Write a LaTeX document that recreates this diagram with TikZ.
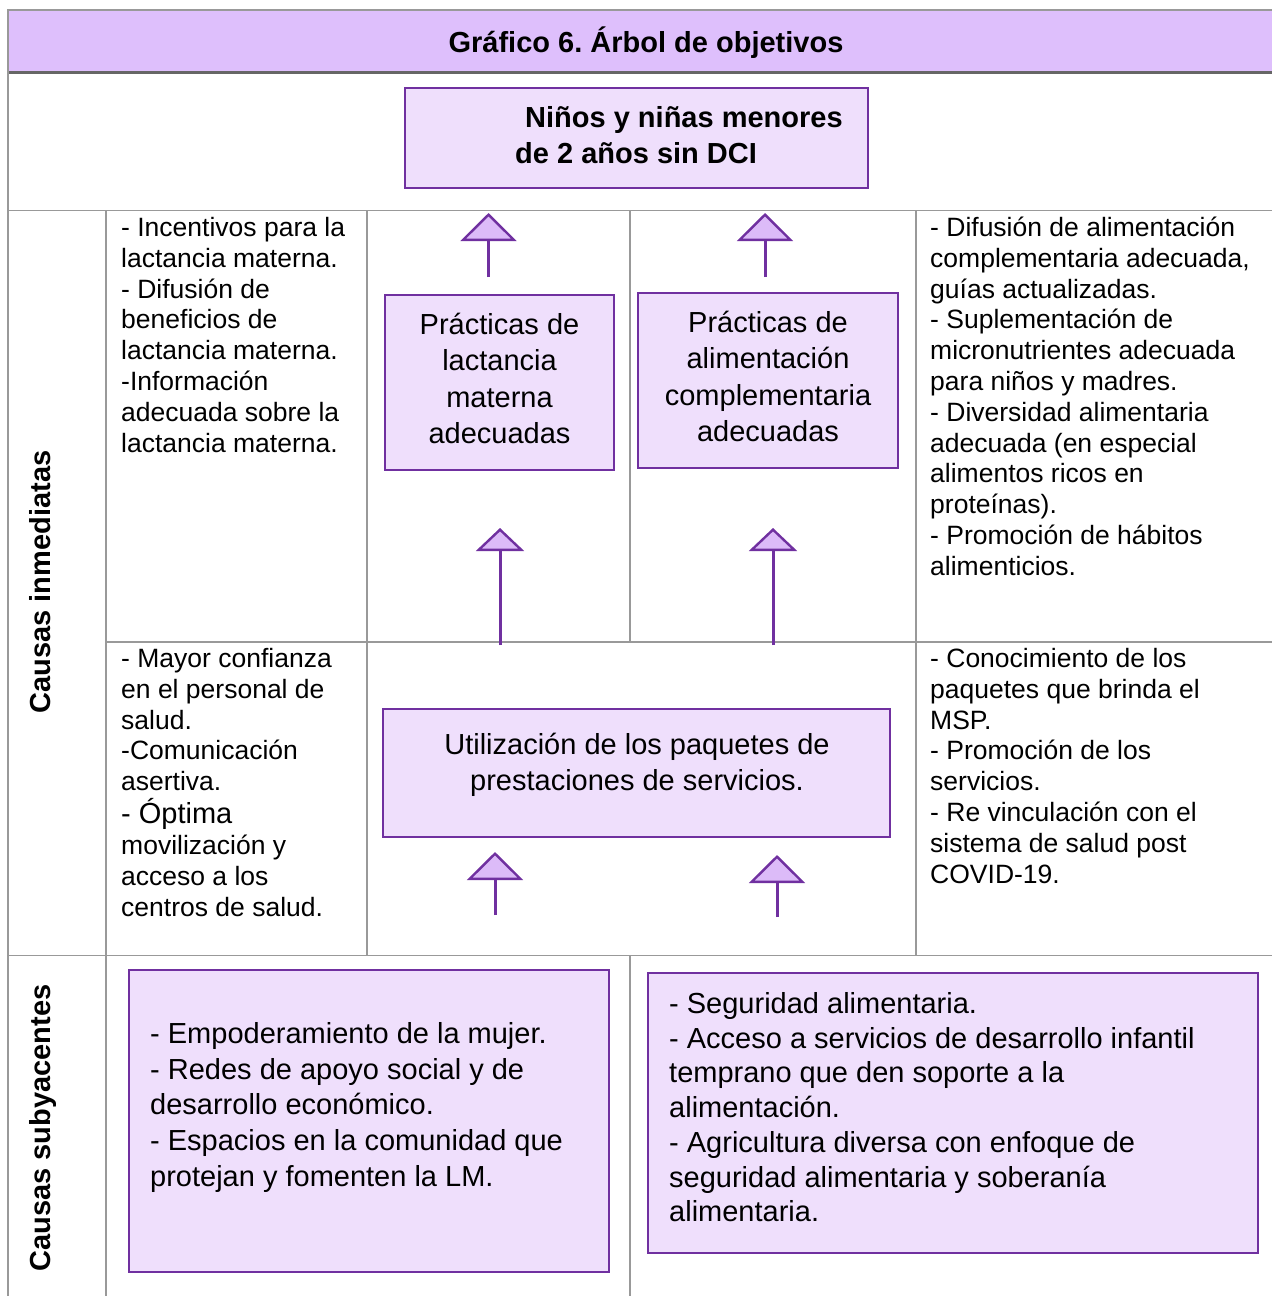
\documentclass[tikz,border=0pt]{standalone}
\usepackage{fontspec}
\setmainfont{Liberation Sans}
\usetikzlibrary{arrows.meta}
\frenchspacing
\definecolor{gridgray}{HTML}{999999}
\definecolor{bandline}{HTML}{666666}
\definecolor{bandfill}{HTML}{DEBFFC}
\definecolor{boxfill}{HTML}{EFDFFC}
\definecolor{purp}{HTML}{7030A0}
\definecolor{arrowfill}{HTML}{DCBBF8}
\newcommand\bodyfont{\fontsize{26.5}{30.8}\selectfont}
\newcommand\boxfont{\fontsize{29}{36.3}\selectfont}
\newcommand\leftlines[1]{\vtop{\let\\\cr\halign{##\hfil\cr#1\crcr}}}
\newcommand\centerlines[1]{\vtop{\let\\\cr\halign{\hfil##\hfil\cr#1\crcr}}}
\tikzset{
  gridline/.style={draw=gridgray, line width=1.8pt},
  box/.style={draw=purp, line width=2.4pt, fill=boxfill, anchor=north west, inner sep=0pt, outer sep=0pt},
  celltext/.style={anchor=base west, inner sep=0pt, font=\bodyfont},
  boxtext/.style={anchor=base west, inner sep=0pt, font=\boxfont},
  sidelabel/.style={rotate=90, anchor=base, inner sep=0pt, font=\boxfont\bfseries},
  bigup/.style={draw=purp, line width=3pt, -{Triangle[width=56pt, length=28pt, fill=arrowfill, line width=2.4pt]}},
  smallup/.style={draw=purp, line width=3pt, -{Triangle[width=48pt, length=23pt, fill=arrowfill, line width=2.4pt]}}
}
\begin{document}
\begin{tikzpicture}[x=1pt, y=-1pt]
\useasboundingbox (0,0) rectangle (1272,1296);
\fill[white] (0,0) rectangle (1272,1296);
% title band
\fill[bandfill] (8,10) rectangle (1272,72);
\draw[gridgray, line width=2pt] (7,10) -- (1272,10);
\draw[bandline, line width=3.6pt] (8,72.5) -- (1272,72.5);
\node[anchor=base, inner sep=0pt, font=\boxfont\bfseries] (title) at (646,52.5) {Gráfico 6. Árbol de objetivos};
% grid
\draw[gridline] (8,10) -- (8,1296);
\draw[gridline] (8,210.5) -- (1272,210.5);
\draw[gridline] (106,210.5) -- (106,1296);
\draw[gridline] (367,210.5) -- (367,955.5);
\draw[gridline] (630,210.5) -- (630,642);
\draw[gridline] (916,210.5) -- (916,955.5);
\draw[gridline] (106,642) -- (1272,642);
\draw[gridline] (8,955.5) -- (1272,955.5);
\draw[gridline] (630,955.5) -- (630,1296);
% side labels
\node[sidelabel] (labinm) at (50,582) {Causas inmediatas};
\node[sidelabel] (labsub) at (50,1128) {Causas subyacentes};
% goal box
\node[box, minimum width=463pt, minimum height=100pt] (goal) at (405,88) {};
\node[boxtext, font=\boxfont\bfseries] (goalA) at (525,127.5) {Niños y niñas menores};
\node[boxtext, font=\boxfont\bfseries] (goalB) at (515,163.5) {de 2 años sin DCI};
% practice boxes
\node[box, minimum width=229pt, minimum height=175pt] (prac1) at (385,295) {};
\node[anchor=base, inner sep=0pt, font=\boxfont] (prac1T) at (499.5,334.5) {\centerlines{Prácticas de\\lactancia\\materna\\adecuadas}};
\node[box, minimum width=260pt, minimum height=175pt] (prac2) at (638,293) {};
\node[anchor=base, inner sep=0pt, font=\boxfont] (prac2T) at (768,332.5) {\centerlines{Prácticas de\\alimentación\\complementaria\\adecuadas}};
% utilization box
\node[box, minimum width=507pt, minimum height=128pt] (util) at (383,709) {};
\node[anchor=base, inner sep=0pt, font=\boxfont] (utilT) at (637,754.5) {\centerlines{Utilización de los paquetes de\\prestaciones de servicios.}};
% underlying boxes
\node[box, minimum width=480pt, minimum height=302pt] (sub1) at (129,970) {};
\node[anchor=base west, inner sep=0pt, font=\fontsize{29}{35.7}\selectfont] (sub1T) at (150,1043.5) {\leftlines{- Empoderamiento de la mujer.\\- Redes de apoyo social y de\\desarrollo económico.\\- Espacios en la comunidad que\\protejan y fomenten la LM.}};
\node[box, minimum width=610pt, minimum height=280pt] (sub2) at (648,973) {};
\node[anchor=base west, inner sep=0pt, font=\fontsize{29}{34.7}\selectfont] (sub2T) at (669,1013.5) {\leftlines{- Seguridad alimentaria.\\- Acceso a servicios de desarrollo infantil\\temprano que den soporte a la\\alimentación.\\- Agricultura diversa con enfoque de\\seguridad alimentaria y soberanía\\alimentaria.}};
% cell texts
\node[celltext] (cellTL) at (121,236.5) {\leftlines{- Incentivos para la\\lactancia materna.\\- Difusión de\\beneficios de\\lactancia materna.\\-Información\\adecuada sobre la\\lactancia materna.}};
\node[celltext] (cellTR) at (930,236.5) {\leftlines{- Difusión de alimentación\\complementaria adecuada,\\guías actualizadas.\\- Suplementación de\\micronutrientes adecuada\\para niños y madres.\\- Diversidad alimentaria\\adecuada (en especial\\alimentos ricos en\\proteínas).\\- Promoción de hábitos\\alimenticios.}};
\node[celltext] (cellBLa) at (121,667.5) {\leftlines{- Mayor confianza\\en el personal de\\salud.\\-Comunicación\\asertiva.}};
\node[celltext, font=\boxfont] (cellBLb) at (121,823.5) {- Óptima};
\node[celltext] (cellBLc) at (121,854.5) {\leftlines{movilización y\\acceso a los\\centros de salud.}};
\node[celltext] (cellBR) at (930,667.5) {\leftlines{- Conocimiento de los\\paquetes que brinda el\\MSP.\\- Promoción de los\\servicios.\\- Re vinculación con el\\sistema de salud post\\COVID-19.}};
% arrows
\coordinate (a1s) at (488.5,277);
\coordinate (a1t) at (488.5,213);
\coordinate (a2s) at (765,277);
\coordinate (a2t) at (765,213);
\coordinate (a3s) at (500,645);
\coordinate (a3t) at (500,528);
\coordinate (a4s) at (773,645);
\coordinate (a4t) at (773,528);
\coordinate (a5s) at (495,915);
\coordinate (a5t) at (495,852);
\coordinate (a6s) at (777,917);
\coordinate (a6t) at (777,855);
\draw[bigup] (a1s) -- (a1t);
\draw[bigup] (a2s) -- (a2t);
\draw[smallup] (a3s) -- (a3t);
\draw[smallup] (a4s) -- (a4t);
\draw[bigup] (a5s) -- (a5t);
\draw[bigup] (a6s) -- (a6t);
\end{tikzpicture}
\end{document}
